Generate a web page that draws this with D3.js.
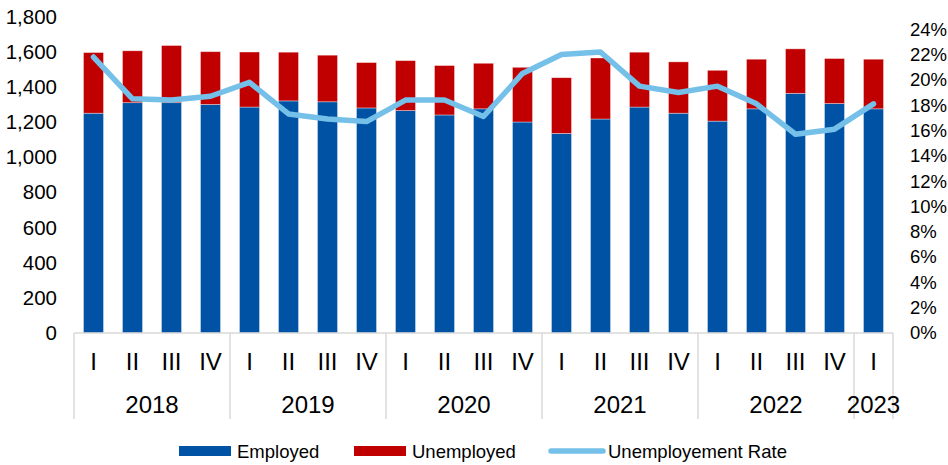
<!DOCTYPE html>
<html>
<head>
<meta charset="utf-8">
<script src="https://cdn.jsdelivr.net/npm/d3@7"></script>
<style>
  html, body { margin: 0; padding: 0; background: #fff; }
  svg { display: block; font-family: "Liberation Sans", Arial, sans-serif; }
</style>
</head>
<body>
<svg id="chart" width="948" height="465"></svg>
<script>
// ---- Data ----
const years = ["2018", "2019", "2020", "2021", "2022", "2023"];
const quarters = ["I","II","III","IV","I","II","III","IV","I","II","III","IV","I","II","III","IV","I","II","III","IV","I"];
const quarterYear = ["2018","2018","2018","2018","2019","2019","2019","2019","2020","2020","2020","2020","2021","2021","2021","2021","2022","2022","2022","2022","2023"];
const employed   = [1250, 1310, 1310, 1300, 1285, 1320, 1315, 1280, 1265, 1240, 1275, 1200, 1135, 1217, 1285, 1250, 1205, 1275, 1363, 1305, 1275];
const unemployed = [ 345,  295,  325,  300,  313,  277,  265,  258,  284,  281,  259,  311,  317,  347,  312,  292,  289,  282,  253,  256,  282];
const rate       = [21.8, 18.5, 18.4, 18.7, 19.8, 17.3, 16.9, 16.7, 18.4, 18.4, 17.1, 20.5, 22.0, 22.2, 19.5, 19.0, 19.5, 18.1, 15.7, 16.1, 18.1];
const leftTicks  = [0, 200, 400, 600, 800, 1000, 1200, 1400, 1600, 1800];
const rightTicks = [0, 2, 4, 6, 8, 10, 12, 14, 16, 18, 20, 22, 24];

(function () {
// ---- Layout ----
const svg = d3.select("#chart");
const pL = 74, pR = 893, pT = 16.5, pB = 333;
const idx = d3.range(quarters.length);

const x = d3.scaleBand().domain(idx).range([pL, pR]).paddingInner(0.487).paddingOuter(0.2435);
const y = d3.scaleLinear().domain([0, 1800]).range([pB, pT]);
const y2 = d3.scaleLinear().domain([0, 25]).range([pB, pT]);

const blue = "#0052A5", red = "#C00000", lineCol = "#74C0E8", axisCol = "#D9D9D9";

// bars
const g = svg.append("g");
g.selectAll("rect.emp").data(idx).join("rect")
  .attr("class", "emp")
  .attr("x", i => x(i)).attr("width", x.bandwidth())
  .attr("y", i => y(employed[i])).attr("height", i => y(0) - y(employed[i]))
  .attr("fill", blue).attr("stroke", "rgba(255,255,255,0.45)").attr("stroke-width", 0.8);
g.selectAll("rect.unemp").data(idx).join("rect")
  .attr("class", "unemp")
  .attr("x", i => x(i)).attr("width", x.bandwidth())
  .attr("y", i => y(employed[i] + unemployed[i])).attr("height", i => y(employed[i]) - y(employed[i] + unemployed[i]))
  .attr("fill", red).attr("stroke", "rgba(255,255,255,0.45)").attr("stroke-width", 0.8);

// line
const line = d3.line().x(i => x(i) + x.bandwidth() / 2).y(i => y2(rate[i]));
svg.append("path").datum(idx).attr("d", line)
  .attr("fill", "none").attr("stroke", lineCol).attr("stroke-width", 5.5)
  .attr("stroke-linejoin", "round").attr("stroke-linecap", "round");

// left axis
const yAxis = d3.axisLeft(y).tickValues(leftTicks).tickSize(0).tickPadding(0).tickFormat(d3.format(","));
const ga = svg.append("g").attr("transform", `translate(57,0)`).call(yAxis);
ga.select(".domain").remove();
ga.selectAll("text").attr("font-size", 20.5).attr("fill", "#000").attr("font-family", "Liberation Sans, Arial, sans-serif");

// right axis
const yAxis2 = d3.axisRight(y2).tickValues(rightTicks).tickSize(0).tickPadding(0).tickFormat(d => d + "%");
const gb = svg.append("g").attr("transform", `translate(910,0)`).call(yAxis2);
gb.select(".domain").remove();
gb.selectAll("text").attr("font-size", 18.5).attr("fill", "#000").attr("font-family", "Liberation Sans, Arial, sans-serif");

// bottom axis line
svg.append("line").attr("x1", pL).attr("x2", pR).attr("y1", pB).attr("y2", pB)
  .attr("stroke", axisCol).attr("stroke-width", 1.5);

// year group boundaries
const yearStart = years.map(yr => quarterYear.indexOf(yr));
const boundaries = yearStart.map(i => x(i) - x.step() * x.paddingInner() / 2).concat([pR]);
svg.selectAll("line.div").data(boundaries).join("line")
  .attr("class", "div")
  .attr("x1", d => d).attr("x2", d => d).attr("y1", pB).attr("y2", 419)
  .attr("stroke", axisCol).attr("stroke-width", 1.5);

// quarter labels
svg.selectAll("text.q").data(idx).join("text")
  .attr("class", "q")
  .attr("x", i => x(i) + x.bandwidth() / 2).attr("y", 370)
  .attr("text-anchor", "middle").attr("font-size", 24).attr("fill", "#000")
  .text(i => quarters[i]);

// year labels
svg.selectAll("text.yr").data(years).join("text")
  .attr("class", "yr")
  .attr("x", (d, k) => (boundaries[k] + boundaries[k + 1]) / 2).attr("y", 413)
  .attr("text-anchor", "middle").attr("font-size", 24).attr("fill", "#000")
  .text(d => d);

// legend
const lg = svg.append("g").attr("font-size", 18.5).attr("fill", "#000");
lg.append("rect").attr("x", 179).attr("y", 446).attr("width", 52).attr("height", 10).attr("fill", blue);
lg.append("text").attr("x", 237).attr("y", 458).text("Employed");
lg.append("rect").attr("x", 354).attr("y", 446).attr("width", 52).attr("height", 10).attr("fill", red);
lg.append("text").attr("x", 412).attr("y", 458).text("Unemployed");
lg.append("line").attr("x1", 551).attr("x2", 603).attr("y1", 451).attr("y2", 451)
  .attr("stroke", lineCol).attr("stroke-width", 5.5).attr("stroke-linecap", "round");
lg.append("text").attr("x", 608).attr("y", 458).text("Unemployement Rate");
})();
</script>
</body>
</html>
